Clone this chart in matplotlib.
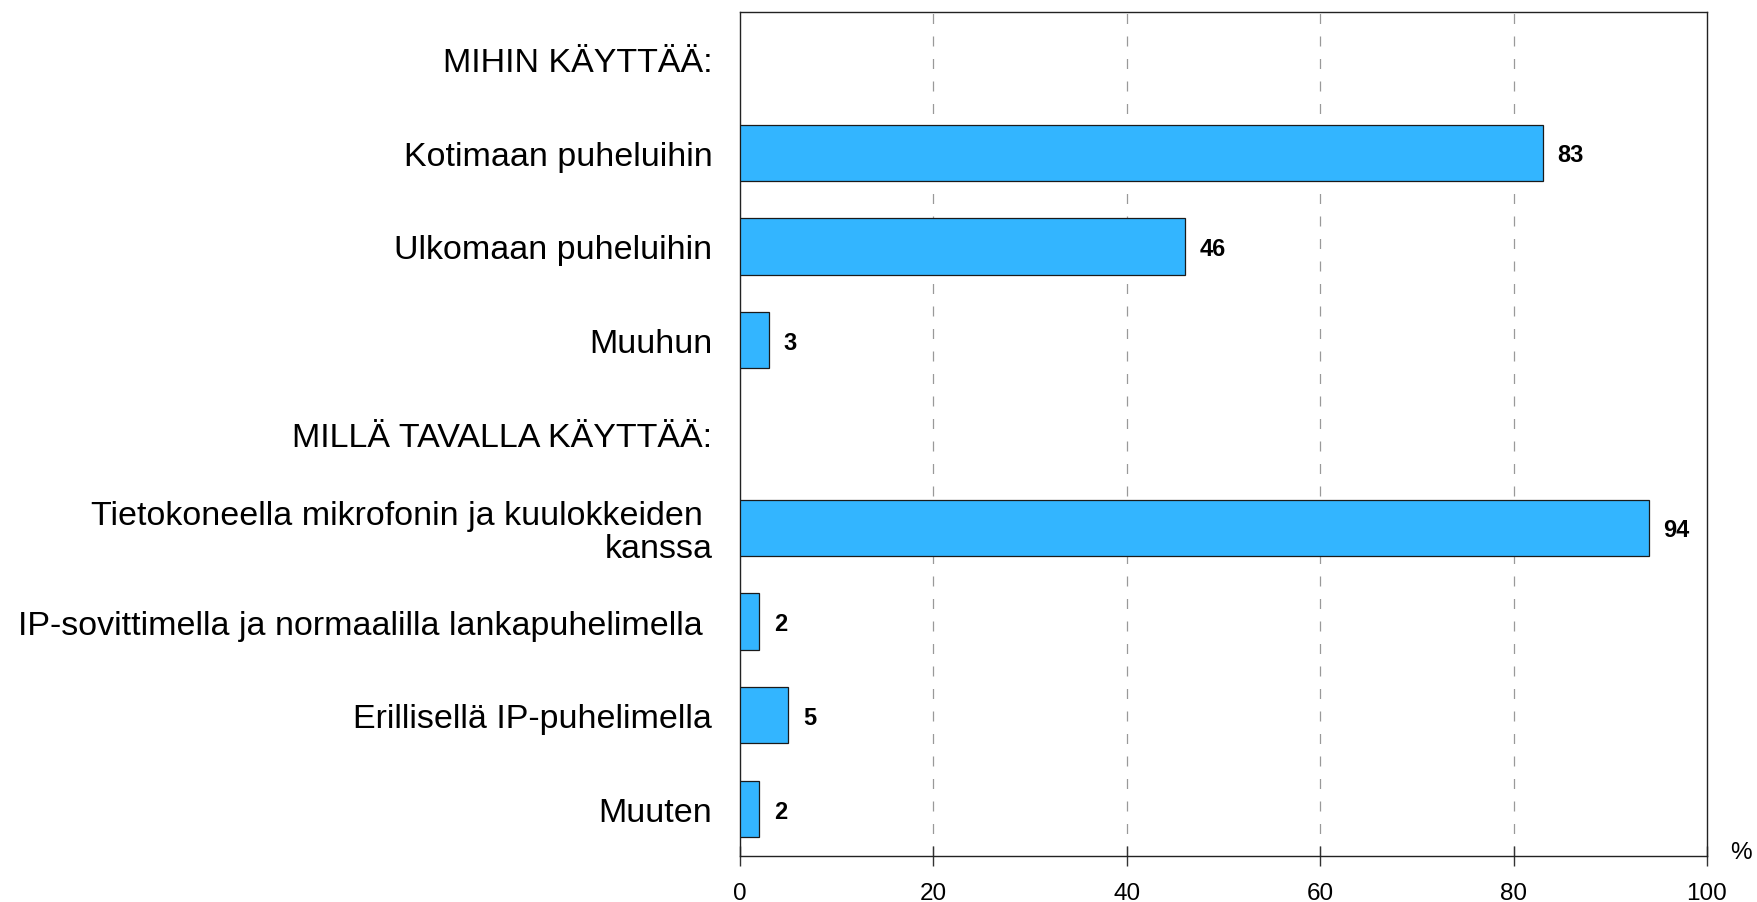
import numpy as np
import matplotlib
matplotlib.use('Agg')
import matplotlib.pyplot as plt

plt.rcParams['font.family'] = ['Liberation Sans', 'DejaVu Sans']

# Rivit ylhäältä alas (otsikkoriveillä ei palkkia)
labels = [
    "MIHIN KÄYTTÄÄ:",
    "Kotimaan puheluihin",
    "Ulkomaan puheluihin",
    "Muuhun",
    "MILLÄ TAVALLA KÄYTTÄÄ:",
    "Tietokoneella mikrofonin ja kuulokkeiden \nkanssa",
    "IP-sovittimella ja normaalilla lankapuhelimella ",
    "Erillisellä IP-puhelimella",
    "Muuten",
]
values = [None, 83, 46, 3, None, 94, 2, 5, 2]
xticks = [0, 20, 40, 60, 80, 100]

fig = plt.figure(figsize=(17.57, 9.03), dpi=100)
ax = fig.add_axes([0.4212, 0.0509, 0.5503, 0.9347])

y = np.arange(len(labels))
for yi, v in zip(y, values):
    if v is None:
        continue
    ax.barh(yi, v, height=0.6, color='#33B5FF', edgecolor='#1a1a1a',
            linewidth=0.9, zorder=3)
    ax.text(v + 1.5, yi + 0.02, str(v), va='center', ha='left',
            fontsize=17, fontweight='bold', zorder=4)

ax.set_ylim(len(labels) - 0.5, -0.5)
ax.set_xlim(0, 100)
ax.set_yticks(y)
ax.set_yticklabels(labels, fontsize=24.5)
for t in ax.get_yticklabels():
    t.set_linespacing(1.05)
ax.tick_params(axis='y', length=0, pad=20)

ax.set_xticks(xticks)
ax.set_xticklabels([str(t) for t in xticks], fontsize=17.5)
ax.tick_params(axis='x', direction='inout', length=14, width=1,
               color='#333333', pad=12)

for xg in xticks[1:-1]:
    ax.axvline(xg, color='#999999', linewidth=0.9,
               linestyle=(0, (8, 10)), zorder=1)

for s in ax.spines.values():
    s.set_color('#222222')
    s.set_linewidth(1.0)

ax.text(1.035, 0.005, '%', transform=ax.transAxes, ha='center',
        va='center', fontsize=17.5)

plt.savefig('out.png', dpi=100)
